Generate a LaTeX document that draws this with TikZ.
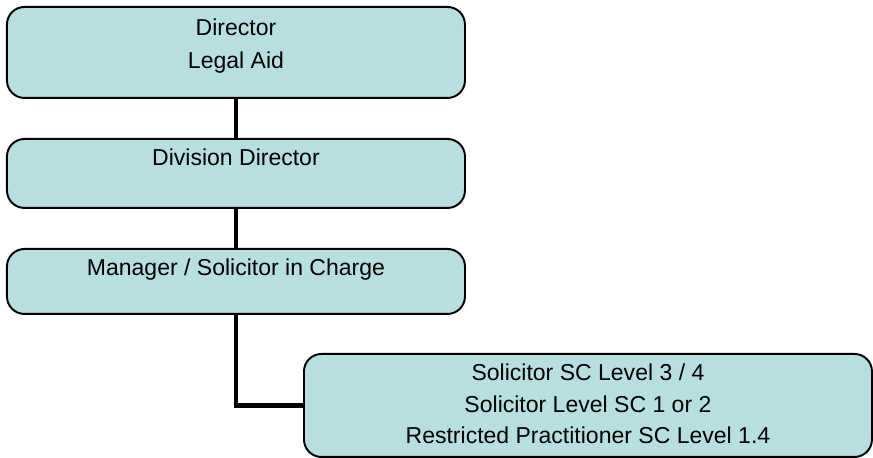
\documentclass[tikz,border=0pt]{standalone}
\usepackage{fontspec}
\setmainfont{Liberation Sans}
\usetikzlibrary{positioning}
\definecolor{boxteal}{RGB}{184,223,224}

\begin{document}
\begin{tikzpicture}[
    orgbox/.style={draw=black, line width=1.1pt, fill=boxteal,
      rounded corners=0.35cm, inner sep=0pt, anchor=north west},
    orgtext/.style={inner sep=0pt, align=center,
      font=\fontsize{13.1pt}{18.2pt}\selectfont},
    link/.style={line width=2.8pt}]
    \useasboundingbox (0,0) rectangle (17.46,-9.16);% page size
    % the four boxes
    \node[orgbox, minimum width=9.16cm, minimum height=1.82cm] (director) at (0.12,-0.12) {};
    \node[orgbox, minimum width=9.16cm, minimum height=1.38cm] (division) at (0.12,-2.76) {};
    \node[orgbox, minimum width=9.16cm, minimum height=1.30cm] (manager) at (0.12,-4.96) {};
    \node[orgbox, minimum width=11.36cm, minimum height=2.06cm] (solicitors) at (6.06,-7.06) {};
    % texts near the top of each box
    \node[orgtext, font=\fontsize{13.1pt}{19.3pt}\selectfont,
        below=0.24cm of director.north] (directortext) {Director\\Legal Aid};
    \node[orgtext, below=0.2cm of division.north] (divisiontext) {Division Director};
    \node[orgtext, below=0.2cm of manager.north] (managertext) {Manager / Solicitor in Charge};
    \node[orgtext, below=0.2cm of solicitors.north] (solicitorstext)
        {Solicitor SC Level 3 / 4\\Solicitor Level SC 1 or 2\\Restricted Practitioner SC Level 1.4};
    % connectors
    \draw[link] (director) -- (division);
    \draw[link] (division) -- (manager);
    \draw[link] (manager.south) |- (solicitors.west);
\end{tikzpicture}
\end{document}
